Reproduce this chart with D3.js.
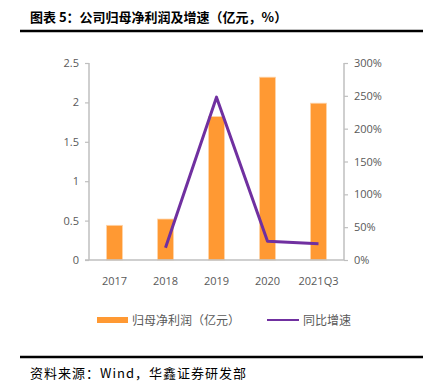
<!DOCTYPE html>
<html>
<head>
<meta charset="utf-8">
<script src="https://cdn.jsdelivr.net/npm/d3@7"></script>
<style>
  body { margin: 0; background: #fff; }
  svg text { font-family: "Noto Sans CJK SC", "Noto Sans", sans-serif; }
</style>
</head>
<body>
<div id="chart"></div>
<script>
var categories = ['2017', '2018', '2019', '2020', '2021Q3'],
    profit = [0.44, 0.52, 1.82, 2.32, 1.99],
    growth = [null, 18.7, 248, 28.4, 24.8],
    leftTicks = [0, 0.5, 1, 1.5, 2, 2.5],
    rightTicks = [0, 50, 100, 150, 200, 250, 300]

var width = 423, height = 391,
    margins = {top: 63, right: 79, bottom: 131, left: 89},
    axisColor = '#bfbfbf',
    labelColor = '#595959'

var svg = d3.select('#chart').append('svg')
    .attr('width', width)
    .attr('height', height)

// title + rules
svg.append('text')
    .attr('x', 30).attr('y', 22)
    .attr('font-size', 13).attr('font-weight', 'bold').attr('fill', '#000')
    .text('图表 5：公司归母净利润及增速（亿元，%）')

svg.append('line')
    .attr('x1', 20).attr('x2', 423).attr('y1', 31).attr('y2', 31)
    .attr('stroke', '#000').attr('stroke-width', 2.5)

svg.append('line')
    .attr('x1', 20).attr('x2', 423).attr('y1', 357).attr('y2', 357)
    .attr('stroke', '#000').attr('stroke-width', 2.5)

svg.append('text')
    .attr('x', 30).attr('y', 378)
    .attr('font-size', 13).attr('letter-spacing', 1).attr('fill', '#000')
    .text('资料来源：Wind，华鑫证券研发部')

var x = d3.scaleBand()
    .domain(categories)
    .range([margins.left, width - margins.right])
    .paddingInner(0.686).paddingOuter(0.343)

var y = d3.scaleLinear().domain([0, 2.5]).range([height - margins.bottom, margins.top])
var y2 = d3.scaleLinear().domain([0, 300]).range([height - margins.bottom, margins.top])

var bandCenter = function(d) { return x(d) + x.bandwidth() / 2 }

// bars
svg.append('g').selectAll('rect')
    .data(profit)
    .enter().append('rect')
    .attr('x', function(d, i) { return x(categories[i]) })
    .attr('y', function(d) { return y(d) })
    .attr('width', x.bandwidth())
    .attr('height', function(d) { return y(0) - y(d) })
    .attr('fill', '#ff9933')
    .attr('stroke', '#ffd5aa').attr('stroke-width', 0.8)

// axes
var gl = svg.append('g')
    .attr('transform', 'translate(' + margins.left + ',0)')
    .call(d3.axisLeft(y).tickValues(leftTicks).tickSize(4).tickPadding(6)
        .tickFormat(function(d) { return String(d) }))

var gr = svg.append('g')
    .attr('transform', 'translate(' + (width - margins.right) + ',0)')
    .call(d3.axisRight(y2).tickValues(rightTicks).tickSize(4).tickPadding(6)
        .tickFormat(function(d) { return d + '%' }))

var gx = svg.append('g')
    .attr('transform', 'translate(0,' + y(0) + ')')
    .call(d3.axisBottom(x).tickSize(0).tickPadding(17))

;[gl, gr, gx].forEach(function(g) {
    g.select('.domain').attr('stroke', axisColor).attr('stroke-width', 1.5)
    g.selectAll('.tick line').attr('stroke', axisColor).attr('stroke-width', 1.2)
    g.selectAll('.tick text').attr('fill', labelColor).attr('font-size', 11)
        .style('font-family', '"Open Sans", "Noto Sans", sans-serif')
})
gl.select('.domain').attr('d', 'M0,' + y(2.5) + 'V' + y(0))
gr.select('.domain').attr('d', 'M0,' + y2(300) + 'V' + y2(0))
gx.select('.domain').attr('d', 'M' + (margins.left - 4) + ',0H' + (width - margins.right))

// growth line
var line = d3.line()
    .defined(function(d) { return d != null })
    .x(function(d, i) { return bandCenter(categories[i]) })
    .y(function(d) { return y2(d) })

svg.append('path')
    .datum(growth)
    .attr('d', line)
    .attr('fill', 'none')
    .attr('stroke', '#7030a0')
    .attr('stroke-width', 3)
    .attr('stroke-linejoin', 'round')

// legend
var legend = svg.append('g').attr('font-size', 12).attr('fill', labelColor)
legend.append('rect')
    .attr('x', 97).attr('y', 317).attr('width', 31).attr('height', 6)
    .attr('fill', '#ff9933')
legend.append('text').attr('x', 132).attr('y', 324.5).attr('fill', labelColor)
    .text('归母净利润（亿元）')
legend.append('line')
    .attr('x1', 267).attr('x2', 299).attr('y1', 320).attr('y2', 320)
    .attr('stroke', '#7030a0').attr('stroke-width', 2)
legend.append('text').attr('x', 303).attr('y', 324.5).attr('fill', labelColor)
    .text('同比增速')
</script>
</body>
</html>
